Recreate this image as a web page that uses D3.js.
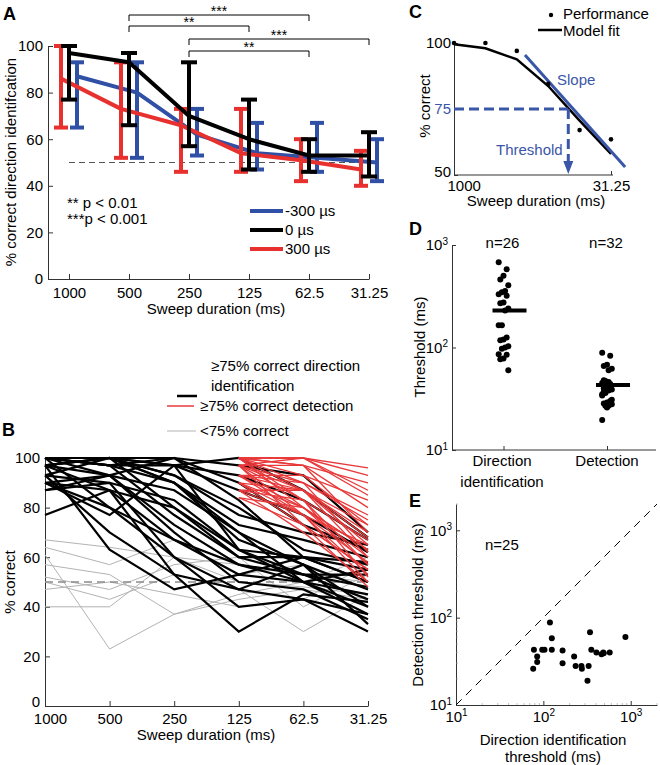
<!DOCTYPE html>
<html><head><meta charset="utf-8">
<script src="https://cdn.jsdelivr.net/npm/d3@7"></script>
<style>
body{margin:0;background:#fff}
svg{display:block}
</style></head><body>
<svg width="660" height="765"></svg>
<script>
// ---------------- DATA ----------------
const durations = ["1000","500","250","125","62.5","31.25"];
// Panel A
const seriesA = ["-300 µs","0 µs","300 µs"];
const meanNeg = [87, 80, 62, 54, 52, 50];
const hiNeg   = [93, 93, 73, 67, 67, 60];
const loNeg   = [65, 52, 53, 47, 46, 42];
const meanZero = [97, 93, 70, 60, 53, 53];
const hiZero   = [100, 97, 93, 77, 60, 63];
const loZero   = [77, 66, 57, 47, 46, 44];
const meanPos = [86, 73, 66, 54, 51, 47];
const hiPos   = [100, 93, 73, 73, 60, 55];
const loPos   = [65, 52, 46, 46, 42, 40];
const sigFrom = [1, 1, 2, 2];
const sigTo   = [4, 3, 5, 4];
const sigText = ["***", "**", "***", "**"];
const yTicksPct = [0, 20, 40, 60, 80, 100];

// Panel B (values at the six sweep durations)
const blackLines = [
  [100,100,100,97,93,70],[100,100,97,93,83,67],[100,97,100,90,73,63],[97,100,93,80,63,57],
  [100,100,90,73,67,60],[97,93,100,83,60,50],[93,100,90,70,57,47],[97,87,80,60,53,43],
  [90,93,73,57,50,40],[90,77,97,63,60,55],[87,90,60,47,43,37],[77,87,67,53,60,50],
  [93,70,53,47,57,33],[100,80,60,40,43,30],[97,63,47,53,50,45],[90,87,53,30,45,42],
  [100,97,77,60,60,58],[100,100,93,77,70,65],[93,90,83,63,53,53],[87,93,70,50,47,35],
  [100,97,97,100,87,68],[97,100,97,87,77,62],[100,93,87,70,50,37],[90,80,67,57,53,48],
  [97,100,80,63,50,55],[100,97,90,67,57,40]
];
// detection lines: values at 125, 62.5, 31.25
const redLines = [
  [100,100,96],[100,100,93],[100,97,90],[97,100,87],[100,93,83],[97,97,80],[100,90,77],[93,93,73],
  [100,87,70],[97,83,67],[93,87,65],[90,80,63],[100,80,60],[93,77,58],[87,83,57],[97,73,55],
  [90,77,53],[87,70,50],[84,73,48],[100,97,70],[97,90,62],[93,90,75],[90,87,60],[87,77,65],
  [100,83,52],[93,80,57],[97,87,73],[84,80,63],[100,100,85],[90,73,55],[87,87,68],[97,77,50]
];
const grayLines = [
  [67,64,60,57,53,50],[64,57,67,53,57,47],[61,23,37,43,47,43],[52,47,57,60,40,53],
  [50,43,53,47,30,45],[47,50,45,40,43,57],[40,40,60,50,48,45],[57,53,37,45,50,60]
];
const legendB = ["≥75% correct direction", "identification", "≥75% correct detection", "<75% correct"];

// Panel C
const perfC = [100, 100, 97, 84.5, 67, 63.5];
const fitC  = [99.5, 98, 93.8, 83.7, 70.6, 58];
const slopeX = [2.26, 5.45];
const slopeY = [95.5, 53];
const thresholdX = 3.64;
const thresholdY = 75;

// Panel D
const catsD = ["Direction", "Detection"];
const nD = ["n=26", "n=32"];
const dirThr = [680,580,500,460,405,355,345,330,320,275,270,240,230,165,165,125,120,118,103,100,97,86,85,78,77,60];
const detThr = [89,83,68,66,62,60,47,45,43,42,40,39,38,36,35,30,29,28.5,28,27,27,19.6,44,41,37,31,46,42,34,29,26,48];
const medD = [229, 43];

// Panel E
const eDir = [76.5,78,85,85,97,103,119,125,125,166,166,225,234,273,276,320,330,342,354,405,463,491,575,870,485];
const eDet = [26,43,36,31,43,43,88,58,43,42,30,36,28,28,26,19,28,68,43,40,38,39,40,60,40];

// ---------------- DRAW ----------------
const F = '"Liberation Sans", Arial, Helvetica, sans-serif';
const svg = d3.select("svg").attr("font-family", F);
const BLUE = "#3050a6", RED = "#e8302f", CBLUE = "#3a56a8";

function txt(x, y, s, o = {}) {
  const t = svg.append("text").attr("x", x).attr("y", y).text(s)
    .attr("font-size", o.size || 15).attr("text-anchor", o.anchor || "start")
    .attr("fill", o.fill || "#000").attr("font-family", F);
  if (o.rotate) t.attr("transform", `rotate(-90,${x},${y})`).attr("dominant-baseline", "central");
  if (o.weight) t.attr("font-weight", o.weight);
  return t;
}
function styleAxis(g) {
  g.attr("font-family", F).attr("font-size", 15);
  g.select(".domain").attr("stroke", "#333").attr("stroke-width", 1);
  g.selectAll(".tick line").attr("stroke", "#333");
  g.selectAll(".tick text").attr("fill", "#000");
  return g;
}
function supLabels(g) {
  g.selectAll(".tick text").each(function (d) {
    const t = d3.select(this); t.text(null);
    t.append("tspan").text("10");
    t.append("tspan").attr("dy", "-0.55em").attr("font-size", 10).text(Math.round(Math.log10(d)));
  });
}

// ===== Panel A =====
const xA = d3.scaleLinear().domain([-0.35, 5]).range([48, 369]);
const yA = d3.scaleLinear().domain([0, 100]).range([279, 46]);
styleAxis(svg.append("g").attr("transform", "translate(0,279)")
  .call(d3.axisBottom(xA).tickValues(d3.range(6)).tickFormat(i => durations[i])
    .tickSizeInner(-5).tickSizeOuter(0).tickPadding(8)));
styleAxis(svg.append("g").attr("transform", "translate(48,0)")
  .call(d3.axisLeft(yA).tickValues(yTicksPct).tickSizeInner(-5).tickSizeOuter(0).tickPadding(5)));

svg.append("line").attr("x1", xA(0)).attr("x2", xA(5)).attr("y1", yA(50)).attr("y2", yA(50))
  .attr("stroke", "#555").attr("stroke-dasharray", "6,4").attr("stroke-width", 1);

const seriesDefs = [
  { mean: meanNeg, hi: hiNeg, lo: loNeg, color: BLUE, off: 8, cap: 14 },
  { mean: meanPos, hi: hiPos, lo: loPos, color: RED, off: -8, cap: 14 },
  { mean: meanZero, hi: hiZero, lo: loZero, color: "#000", off: 0, cap: 16 }
];
seriesDefs.forEach(s => {
  const g = svg.append("g");
  g.append("path").datum(s.mean)
    .attr("d", d3.line().x((d, i) => xA(i) + s.off).y(d => yA(d)))
    .attr("fill", "none").attr("stroke", s.color).attr("stroke-width", 4).attr("stroke-linejoin", "round");
  s.mean.forEach((m, i) => {
    const cx = xA(i) + s.off;
    g.append("line").attr("x1", cx).attr("x2", cx).attr("y1", yA(s.lo[i])).attr("y2", yA(s.hi[i]))
      .attr("stroke", s.color).attr("stroke-width", 4);
    [s.lo[i], s.hi[i]].forEach(v => g.append("line").attr("x1", cx - s.cap / 2).attr("x2", cx + s.cap / 2)
      .attr("y1", yA(v)).attr("y2", yA(v)).attr("stroke", s.color).attr("stroke-width", 4));
  });
});

const sigY = [15, 26, 39, 51];
sigText.forEach((s, k) => {
  const x1 = xA(sigFrom[k]), x2 = xA(sigTo[k]), y = sigY[k];
  svg.append("path").attr("d", `M${x1},${y + 6}V${y}H${x2}V${y + 6}`)
    .attr("fill", "none").attr("stroke", "#000").attr("stroke-width", 1);
  txt((x1 + x2) / 2, y + 1, s, { size: 14, anchor: "middle" });
});

// legend A
const legCols = [BLUE, "#000", RED];
seriesA.forEach((s, k) => {
  const y = 211 + k * 19;
  svg.append("line").attr("x1", 250).attr("x2", 283).attr("y1", y).attr("y2", y)
    .attr("stroke", legCols[k]).attr("stroke-width", 4);
  txt(285, y + 5, s);
});
txt(67, 208, "** p < 0.01");
txt(67, 224, "***p < 0.001");
txt(216, 314, "Sweep duration (ms)", { anchor: "middle" });
txt(10, 162, "% correct direction identifcation", { anchor: "middle", rotate: true });
txt(3, 20, "A", { size: 18, weight: "bold" });

// ===== Panel B =====
const xB = d3.scaleLinear().domain([0, 5]).range([45, 368]);
const yB = d3.scaleLinear().domain([0, 100]).range([706, 458]);
const gBx = styleAxis(svg.append("g").attr("transform", "translate(0,706)")
  .call(d3.axisBottom(xB).tickValues(d3.range(6)).tickFormat(i => durations[i])
    .tickSizeInner(-5).tickSizeOuter(0).tickPadding(7)));
gBx.selectAll(".tick text").filter(d => d === 0).attr("x", 5);
const gBy = styleAxis(svg.append("g").attr("transform", "translate(45,0)")
  .call(d3.axisLeft(yB).tickValues(yTicksPct).tickSizeInner(-5).tickSizeOuter(0).tickPadding(5)));
gBy.selectAll(".tick text").filter(d => d === 0).attr("y", -4);

const lineB = d3.line().x((d, i) => xB(i)).y(d => yB(d));
const lineR = d3.line().x((d, i) => xB(i + 3)).y(d => yB(d));
grayLines.forEach(l => svg.append("path").attr("d", lineB(l)).attr("fill", "none")
  .attr("stroke", "#b3b3b3").attr("stroke-width", 1));
svg.append("line").attr("x1", xB(0)).attr("x2", xB(5)).attr("y1", yB(50)).attr("y2", yB(50))
  .attr("stroke", "#8a8a8a").attr("stroke-width", 1.5).attr("stroke-dasharray", "8,5");
blackLines.forEach(l => svg.append("path").attr("d", lineB(l)).attr("fill", "none")
  .attr("stroke", "#000").attr("stroke-width", 2.2).attr("stroke-linejoin", "miter"));
redLines.forEach(l => svg.append("path").attr("d", lineR(l)).attr("fill", "none")
  .attr("stroke", "#e8383a").attr("stroke-width", 1.3));

// legend B
svg.append("line").attr("x1", 177).attr("x2", 197).attr("y1", 396).attr("y2", 396).attr("stroke", "#000").attr("stroke-width", 2.5);
txt(211, 371, legendB[0]);
txt(211, 391, legendB[1]);
svg.append("line").attr("x1", 167).attr("x2", 194).attr("y1", 406).attr("y2", 406).attr("stroke", "#e8383a").attr("stroke-width", 1.5);
txt(200, 411, legendB[2]);
svg.append("line").attr("x1", 167).attr("x2", 196).attr("y1", 431).attr("y2", 431).attr("stroke", "#b3b3b3").attr("stroke-width", 1);
txt(200, 436, legendB[3]);
txt(206, 740, "Sweep duration (ms)", { anchor: "middle" });
txt(9, 582, "% correct", { anchor: "middle", rotate: true });
txt(2, 436, "B", { size: 18, weight: "bold" });

// ===== Panel C =====
const xC = d3.scaleLinear().domain([0, 5]).range([454, 611]);
const yC = d3.scaleLinear().domain([50, 100]).range([175, 43]);
const gCx = styleAxis(svg.append("g").attr("transform", "translate(0,175)")
  .call(d3.axisBottom(xC).tickValues([0, 5]).tickFormat(i => durations[i])
    .tickSizeInner(-4).tickSizeOuter(0).tickPadding(5)));
gCx.select(".domain").attr("d", "M454,0H613");
gCx.selectAll(".tick text").filter(d => d === 0).attr("text-anchor", "start").attr("x", -7);
const gCy = styleAxis(svg.append("g").attr("transform", "translate(454,0)")
  .call(d3.axisLeft(yC).tickValues([50, 75, 100]).tickSizeInner(-4).tickSizeOuter(0).tickPadding(3)));
gCy.selectAll(".tick text").filter(d => d === 75).attr("fill", CBLUE);
gCy.selectAll(".tick text").filter(d => d === 50).attr("y", -3);

svg.append("path").datum(fitC).attr("d", d3.line().x((d, i) => xC(i)).y(d => yC(d)))
  .attr("fill", "none").attr("stroke", "#000").attr("stroke-width", 2.5);
svg.append("line").attr("x1", xC(slopeX[0])).attr("x2", xC(slopeX[1]))
  .attr("y1", yC(slopeY[0])).attr("y2", yC(slopeY[1])).attr("stroke", CBLUE).attr("stroke-width", 3);
svg.append("line").attr("x1", xC(0)).attr("x2", xC(thresholdX)).attr("y1", yC(thresholdY)).attr("y2", yC(thresholdY))
  .attr("stroke", CBLUE).attr("stroke-width", 3).attr("stroke-dasharray", "10,5");
svg.append("line").attr("x1", xC(thresholdX)).attr("x2", xC(thresholdX)).attr("y1", yC(thresholdY)).attr("y2", yC(50) - 12)
  .attr("stroke", CBLUE).attr("stroke-width", 3).attr("stroke-dasharray", "10,5");
{
  const ax = xC(thresholdX), ay = yC(50) - 1;
  svg.append("path").attr("d", `M${ax - 5},${ay - 13}L${ax + 5},${ay - 13}L${ax},${ay}Z`).attr("fill", CBLUE);
}
perfC.forEach((v, i) => svg.append("circle").attr("cx", xC(i)).attr("cy", yC(v)).attr("r", 2.3).attr("fill", "#000"));
txt(557, 85, "Slope", { fill: CBLUE });
txt(496, 155, "Threshold", { fill: CBLUE });
svg.append("circle").attr("cx", 551).attr("cy", 15).attr("r", 2.2).attr("fill", "#000");
txt(563, 19, "Performance");
svg.append("line").attr("x1", 538).attr("x2", 562).attr("y1", 30).attr("y2", 30).attr("stroke", "#000").attr("stroke-width", 2.5);
txt(563, 36, "Model fit");
txt(536, 206, "Sweep duration (ms)", { anchor: "middle" });
txt(424, 106, "% correct", { anchor: "middle", rotate: true });
txt(409, 18, "C", { size: 18, weight: "bold" });

// ===== Panel D =====
const xD = d3.scalePoint().domain(catsD).range([503.5, 607]);
const yD = d3.scaleLog().domain([10, 1000]).range([450, 245]);
const gDx = styleAxis(svg.append("g").attr("transform", "translate(0,450)")
  .call(d3.axisBottom(xD).tickSizeInner(-4).tickSizeOuter(0).tickFormat(() => "")));
gDx.select(".domain").attr("d", "M452,0H656");
const gDy = styleAxis(svg.append("g").attr("transform", "translate(452,0)")
  .call(d3.axisLeft(yD).tickValues([10, 100, 1000]).tickSizeInner(-4).tickSizeOuter(0).tickPadding(4)));
supLabels(gDy);
txt(502, 466, "Direction", { anchor: "middle" });
txt(502, 487, "identification", { anchor: "middle" });
txt(607, 466, "Detection", { anchor: "middle" });
[dirThr, detThr].forEach((arr, c) => {
  const cx = xD(catsD[c]);
  arr.forEach((v, i) => svg.append("circle").attr("cx", cx + ((i * 5) % 7 - 3) * 1.6).attr("cy", yD(v))
    .attr("r", 3).attr("fill", "#000"));
  svg.append("line").attr("x1", cx - 11).attr("x2", cx + 23).attr("y1", yD(medD[c])).attr("y2", yD(medD[c]))
    .attr("stroke", "#000").attr("stroke-width", 4);
  txt(cx - 1, 248, nD[c], { anchor: "middle" });
});
txt(419, 347, "Threshold (ms)", { anchor: "middle", rotate: true });
txt(409, 235, "D", { size: 18, weight: "bold" });

// ===== Panel E =====
const xE = d3.scaleLog().domain([10, 2000]).range([456, 657]);
const yE = d3.scaleLog().domain([10, 2000]).range([705, 504]);
const minor = [];
[10, 100, 1000].forEach(b => d3.range(2, 10).forEach(m => { if (b * m <= 2000) minor.push(b * m); }));
const gEx = styleAxis(svg.append("g").attr("transform", "translate(0,705)")
  .call(d3.axisBottom(xE).tickValues([10, 100, 1000]).tickSizeInner(-4).tickSizeOuter(0).tickPadding(6)));
supLabels(gEx);
const gEy = styleAxis(svg.append("g").attr("transform", "translate(456,0)")
  .call(d3.axisLeft(yE).tickValues([10, 100, 1000]).tickSizeInner(-4).tickSizeOuter(0).tickPadding(4)));
supLabels(gEy);
minor.forEach(v => {
  svg.append("line").attr("x1", xE(v)).attr("x2", xE(v)).attr("y1", 705).attr("y2", 703).attr("stroke", "#999").attr("stroke-width", 0.6);
  svg.append("line").attr("x1", 456).attr("x2", 458).attr("y1", yE(v)).attr("y2", yE(v)).attr("stroke", "#999").attr("stroke-width", 0.6);
});
svg.append("line").attr("x1", xE(10)).attr("y1", yE(10)).attr("x2", xE(2000)).attr("y2", yE(2000))
  .attr("stroke", "#000").attr("stroke-width", 1).attr("stroke-dasharray", "8,6");
eDir.forEach((v, i) => svg.append("circle").attr("cx", xE(v)).attr("cy", yE(eDet[i])).attr("r", 3).attr("fill", "#000"));
txt(485, 550, "n=25");
txt(553, 745, "Direction identification", { anchor: "middle" });
txt(553, 762, "threshold (ms)", { anchor: "middle" });
txt(417, 605, "Detection threshold (ms)", { anchor: "middle", rotate: true });
txt(409, 507, "E", { size: 18, weight: "bold" });
</script>
</body></html>
